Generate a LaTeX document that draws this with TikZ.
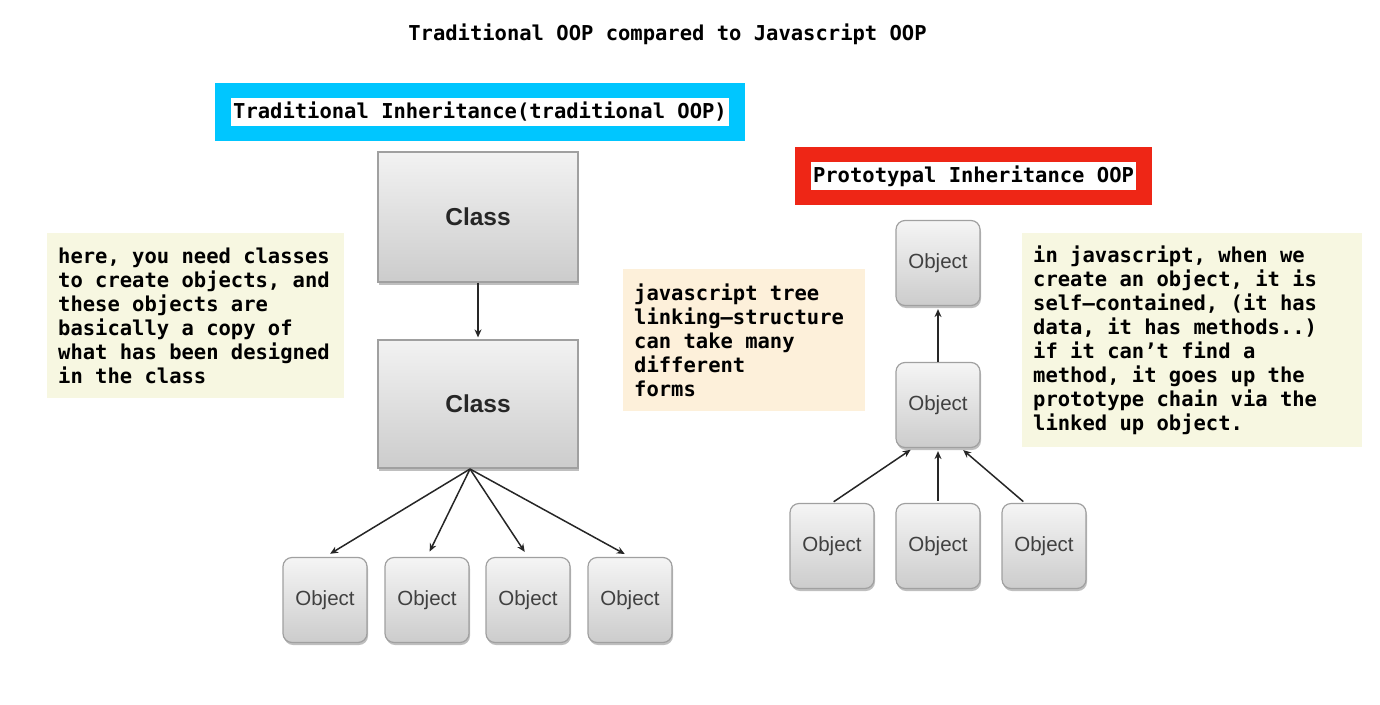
\documentclass[tikz,border=0pt]{standalone}
\usepackage{fontspec}
\newfontfamily\mono{DejaVu Sans Mono}
\newfontfamily\helv{Liberation Sans}
\usetikzlibrary{shadows,arrows.meta}
\definecolor{hdcyan}{HTML}{00C6FF}
\definecolor{hdred}{HTML}{EE2616}
\definecolor{noteyel}{HTML}{F7F7E1}
\definecolor{notepeach}{HTML}{FDF0DA}
\definecolor{boxedge}{HTML}{A0A0A0}
\begin{document}
\begin{tikzpicture}[x=1pt,y=1pt,
  monofont/.style={font=\mono\bfseries\fontsize{20.5}{24}\selectfont},
  classbox/.style={rectangle, draw=boxedge, line width=1.2pt, top color=black!5, bottom color=black!20,
    minimum width=200pt, minimum height=130pt,
    drop shadow={shadow xshift=1pt, shadow yshift=-2.5pt, fill=black, opacity=0.25},
    font=\helv\bfseries\fontsize{24.5}{28}\selectfont, text=black!85},
  objbox/.style={rectangle, rounded corners=9pt, draw=boxedge, line width=1.2pt, top color=black!4, bottom color=black!20,
    minimum width=84pt, minimum height=85pt,
    drop shadow={shadow xshift=1pt, shadow yshift=-2.5pt, fill=black, opacity=0.25},
    font=\helv\fontsize{20.5}{24}\selectfont, text=black!75},
  note/.style={monofont, align=left, inner xsep=11pt, inner ysep=10pt, anchor=north west,
    execute at begin node={\spaceskip=0.602em\relax\xspaceskip=0.602em\relax}},
  hdback/.style={rectangle, inner sep=0pt, minimum height=58pt},
  hdtext/.style={monofont, fill=white, inner xsep=2pt, inner ysep=4pt},
  arr/.style={-{Stealth[length=8pt,width=7pt]}, line width=1.5pt, draw=black!85}
]
\useasboundingbox (0,0) rectangle (1380,-704);

% title
\node[monofont] (title) at (667.5,-34) {Traditional OOP compared to Javascript OOP};

% headings
\node[hdback, fill=hdcyan, minimum width=530pt] (tradbg) at (480,-112) {};
\node[hdtext] (tradhd) at (tradbg.center) {Traditional Inheritance(traditional OOP)};
\node[hdback, fill=hdred, minimum width=357pt] (protobg) at (973.5,-176) {};
\node[hdtext] (protohd) at (protobg.center) {Prototypal Inheritance OOP};

% notes
\node[note, fill=noteyel, text width=275pt, minimum height=165pt] (leftnote) at (47,-233)
 {here, you need classes\\to create objects, and\\these objects are\\basically a copy of\\what has been designed\\in the class};
\node[note, fill=notepeach, text width=220pt, minimum height=142pt] (midnote) at (623,-269)
 {javascript tree\\linking–structure\\can take many\\different\\forms};
\node[note, fill=noteyel, text width=318pt, minimum height=214pt] (rightnote) at (1022,-233)
 {in javascript, when we\\create an object, it is\\self–contained, (it has\\data, it has methods..)\\if it can’t find a\\method, it goes up the\\prototype chain via the\\linked up object.};

% traditional tree
\node[classbox] (c1) at (478,-217) {Class};
\node[classbox, minimum height=128pt] (c2) at (478,-404) {Class};
\node[objbox] (o1) at (325,-600) {Object};
\node[objbox] (o2) at (427,-600) {Object};
\node[objbox] (o3) at (528,-600) {Object};
\node[objbox] (o4) at (630,-600) {Object};
\coordinate (c2s) at (470,-469);

\draw[arr, shorten >=2pt] (c1.south) -- (c2.north);
\draw[arr, shorten >=6pt] (c2s) -- (o1.north);
\draw[arr, shorten >=6pt] (c2s) -- (o2.north);
\draw[arr, shorten >=6pt] (c2s) -- (o3.north);
\draw[arr, shorten >=6pt] (c2s) -- (o4.north);

% prototypal tree
\node[objbox] (pt) at (938,-263) {Object};
\node[objbox] (pm) at (938,-405) {Object};
\node[objbox] (pl) at (832,-546) {Object};
\node[objbox] (pc) at (938,-546) {Object};
\node[objbox] (pr) at (1044,-546) {Object};

\draw[arr, shorten >=3pt] (pm.north) -- (pt.south);
\draw[arr, shorten >=3pt, shorten <=2pt] (pl.north) -- (pm.-120);
\draw[arr, shorten >=3pt, shorten <=2pt] (pc.north) -- (pm.south);
\draw[arr, shorten >=3pt, shorten <=2pt] (pr.114) -- (pm.-62);
\end{tikzpicture}
\end{document}
